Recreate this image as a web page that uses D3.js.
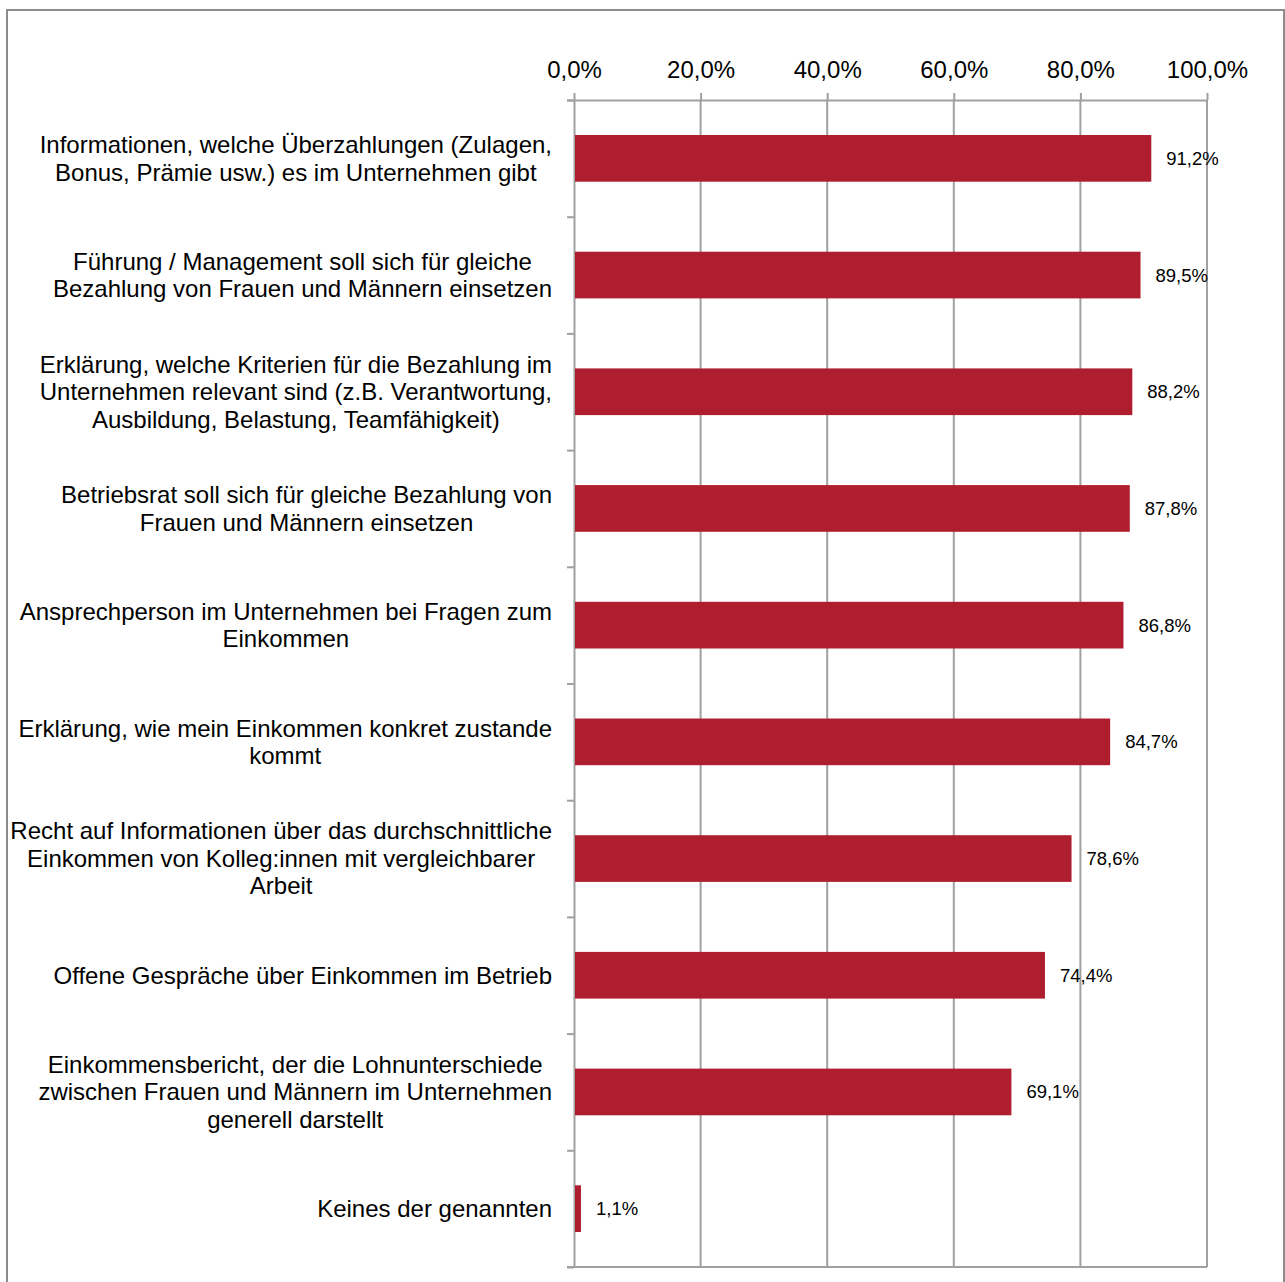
<!DOCTYPE html>
<html>
<head>
<meta charset="utf-8">
<script src="https://cdn.jsdelivr.net/npm/d3@7"></script>
<style>
  html, body { margin: 0; padding: 0; background: #fff; }
  svg { display: block; font-family: "Liberation Sans", Arial, sans-serif; }
</style>
</head>
<body>
<svg id="chart" width="1285" height="1282"></svg>
<script>
// Survey items (each entry is a list of label lines) and their shares in percent
const categories = [
  ["Informationen, welche Überzahlungen (Zulagen,", "Bonus, Prämie usw.) es im Unternehmen gibt"],
  ["Führung / Management soll sich für gleiche", "Bezahlung von Frauen und Männern einsetzen"],
  ["Erklärung, welche Kriterien für die Bezahlung im", "Unternehmen relevant sind (z.B. Verantwortung,", "Ausbildung, Belastung, Teamfähigkeit)"],
  ["Betriebsrat soll sich für gleiche Bezahlung von", "Frauen und Männern einsetzen"],
  ["Ansprechperson im Unternehmen bei Fragen zum", "Einkommen"],
  ["Erklärung, wie mein Einkommen konkret zustande", "kommt"],
  ["Recht auf Informationen über das durchschnittliche", "Einkommen von Kolleg:innen mit vergleichbarer", "Arbeit"],
  ["Offene Gespräche über Einkommen im Betrieb"],
  ["Einkommensbericht, der die Lohnunterschiede", "zwischen Frauen und Männern im Unternehmen", "generell darstellt"],
  ["Keines der genannten"]
];
const values = [91.2, 89.5, 88.2, 87.8, 86.8, 84.7, 78.6, 74.4, 69.1, 1.1];
const xTicks = [0, 20, 40, 60, 80, 100];

const svg = d3.select("#chart");
const fontFamily = "'Liberation Sans', Arial, sans-serif";
const plot = { left: 574, right: 1207, top: 100, bottom: 1267 };
const axisColor = "#a0a0a0";
const barColor = "#af1e2e";
const fmt = v => v.toFixed(1).replace(".", ",") + "%";

// Outer frame
svg.append("rect")
  .attr("x", 7).attr("y", 10)
  .attr("width", 1277).attr("height", 1290)
  .attr("fill", "none").attr("stroke", "#8c8c8c").attr("stroke-width", 2);

const x = d3.scaleLinear().domain([0, 100]).range([plot.left, plot.right]);
const y = d3.scaleBand()
  .domain(d3.range(categories.length))
  .range([plot.top, plot.bottom])
  .paddingInner(0.6).paddingOuter(0.3);
const yEdge = d3.scaleLinear().domain([0, categories.length]).range([plot.top, plot.bottom]);

// Vertical gridlines
svg.append("g").selectAll("line")
  .data(xTicks.slice(1))
  .join("line")
  .attr("x1", d => x(d)).attr("x2", d => x(d))
  .attr("y1", plot.top).attr("y2", plot.bottom)
  .attr("stroke", axisColor).attr("stroke-width", 2);

// Bottom border of the plot area
svg.append("line")
  .attr("x1", plot.left - 7).attr("x2", plot.right)
  .attr("y1", plot.bottom).attr("y2", plot.bottom)
  .attr("stroke", axisColor).attr("stroke-width", 2);

// Top value axis
const xAxis = svg.append("g")
  .attr("transform", `translate(0,${plot.top})`)
  .call(d3.axisTop(x).tickValues(xTicks).tickFormat(fmt).tickSize(7).tickPadding(15).tickSizeOuter(0));
xAxis.attr("font-family", fontFamily);
xAxis.select(".domain").attr("stroke", axisColor).attr("stroke-width", 2)
  .attr("d", `M${plot.left - 7},0.5H${plot.right}`);
xAxis.selectAll(".tick line").attr("stroke", axisColor).attr("stroke-width", 2);
xAxis.selectAll(".tick text").attr("fill", "#000").attr("font-size", 24);

// Left category axis with ticks between categories
const yAxis = svg.append("g")
  .attr("transform", `translate(${plot.left},0)`)
  .call(d3.axisLeft(yEdge).tickValues(d3.range(categories.length + 1))
    .tickFormat("").tickSize(7).tickSizeOuter(0));
yAxis.select(".domain").attr("stroke", axisColor).attr("stroke-width", 2);
yAxis.selectAll(".tick line").attr("stroke", axisColor).attr("stroke-width", 2);

// Bars
svg.append("g").selectAll("rect")
  .data(values)
  .join("rect")
  .attr("x", x(0) + 1)
  .attr("y", (d, i) => y(i))
  .attr("width", d => x(d) - x(0) - 1)
  .attr("height", y.bandwidth())
  .attr("fill", barColor);

// Value labels
svg.append("g").attr("font-family", fontFamily).selectAll("text")
  .data(values)
  .join("text")
  .attr("x", d => x(d) + 15)
  .attr("y", (d, i) => y(i) + y.bandwidth() / 2)
  .attr("dy", "0.35em")
  .attr("font-size", 18.5)
  .attr("fill", "#000")
  .text(d => fmt(d));

// Category labels: lines centred inside a block whose right edge sits near the axis
const lineH = 27.5;
const labelRight = 552;
const labels = svg.append("g")
  .attr("font-family", fontFamily).attr("font-size", 24).attr("fill", "#000");
categories.forEach((lines, i) => {
  const cy = y(i) + y.bandwidth() / 2;
  const g = labels.append("g");
  const texts = lines.map((ln, k) => g.append("text")
    .attr("y", cy + (k - (lines.length - 1) / 2) * lineH)
    .attr("dy", "0.35em")
    .attr("text-anchor", "middle")
    .text(ln));
  const maxW = d3.max(texts, t => t.node().getComputedTextLength());
  texts.forEach(t => t.attr("x", labelRight - maxW / 2));
});
</script>
</body>
</html>
